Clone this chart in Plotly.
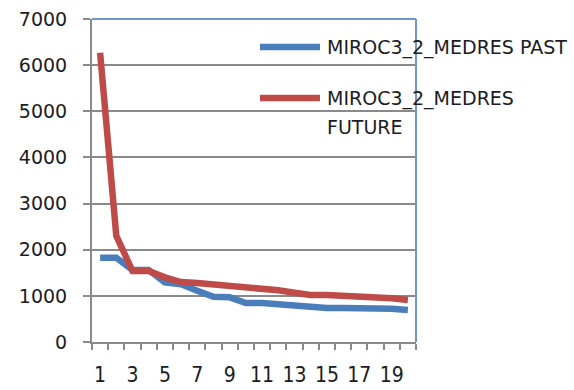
import plotly.graph_objects as go

# Ranked values, series by series
ranks = list(range(1, 21))
past_values = [1827, 1827, 1560, 1560, 1294, 1250, 1112, 982, 968, 845,
               845, 816, 780, 758, 737, 737, 737, 730, 723, 694]
future_values = [6270, 2300, 1539, 1539, 1402, 1300, 1279, 1250, 1214, 1185,
                 1142, 1120, 1069, 1018, 1018, 1004, 968, 968, 946, 910]
series_names = ["MIROC3_2_MEDRES PAST", "MIROC3_2_MEDRES FUTURE"]
x_tick_labels = [str(v) for v in range(1, 20, 2)]
y_tick_values = list(range(0, 7001, 1000))

BLUE = "#4a7ebb"
RED = "#be4b48"
GRID = "#8a8a8a"
FRAME = "#6f96cf"
TEXT = "#1c1c24"
FONT = "DejaVu Sans"
NARROW = "Liberation Sans Narrow, DejaVu Sans Condensed, Liberation Sans"

fig = go.Figure()
fig.add_trace(go.Scatter(x=ranks, y=past_values, mode="lines", name=series_names[0],
                         line=dict(color=BLUE, width=6.5), showlegend=False))
fig.add_trace(go.Scatter(x=ranks, y=future_values, mode="lines", name=series_names[1],
                         line=dict(color=RED, width=6.5), showlegend=False))

fig.update_layout(
    width=574, height=390,
    margin=dict(l=92, r=158, t=19, b=48),
    paper_bgcolor="white", plot_bgcolor="white",
    font=dict(family=FONT, size=19, color=TEXT),
    xaxis=dict(
        range=[0.5, 20.5], tickmode="array",
        tickvals=list(range(1, 20, 2)), ticktext=x_tick_labels,
        ticks="", showgrid=False, zeroline=False, automargin=False,
        showline=True, linecolor=GRID, linewidth=2,
        ticklabelstandoff=13,
        tickfont=dict(family=NARROW, size=21, color=TEXT),
        minor=dict(ticks="outside", tick0=0.5, dtick=1, ticklen=6,
                   tickwidth=2, tickcolor=GRID, showgrid=False),
    ),
    yaxis=dict(
        range=[0, 7000], tickmode="array", tickvals=y_tick_values,
        ticks="outside", ticklen=7, tickwidth=2, tickcolor=GRID,
        showgrid=True, gridcolor=GRID, gridwidth=1.5, zeroline=False,
        automargin=False,
        showline=True, linecolor=GRID, linewidth=2,
        ticklabelstandoff=12,
        tickfont=dict(family=FONT, size=19, color=TEXT),
    ),
)

# Plot-area frame on the top and right sides
fig.add_shape(type="line", xref="paper", yref="paper", x0=0, x1=1, y0=1, y1=1,
              line=dict(color=FRAME, width=2))
fig.add_shape(type="line", xref="paper", yref="paper", x0=1, x1=1, y0=0, y1=1,
              line=dict(color=FRAME, width=2))

# Legend drawn over the plot area
legend_rows = [
    (0.913, BLUE, [(series_names[0], 0.913)]),
    (0.7554, RED, [("MIROC3_2_MEDRES", 0.7554), ("FUTURE", 0.6656)]),
]
for y_line, color, texts in legend_rows:
    fig.add_shape(type="line", xref="paper", yref="paper",
                  x0=0.5185, x1=0.7037, y0=y_line, y1=y_line,
                  line=dict(color=color, width=6.5))
    for txt, y_txt in texts:
        fig.add_annotation(text=txt, xref="paper", yref="paper", x=0.719, y=y_txt,
                           xanchor="left", yanchor="middle", showarrow=False,
                           font=dict(family=FONT, size=19, color=TEXT))

fig.write_html("out.html")
